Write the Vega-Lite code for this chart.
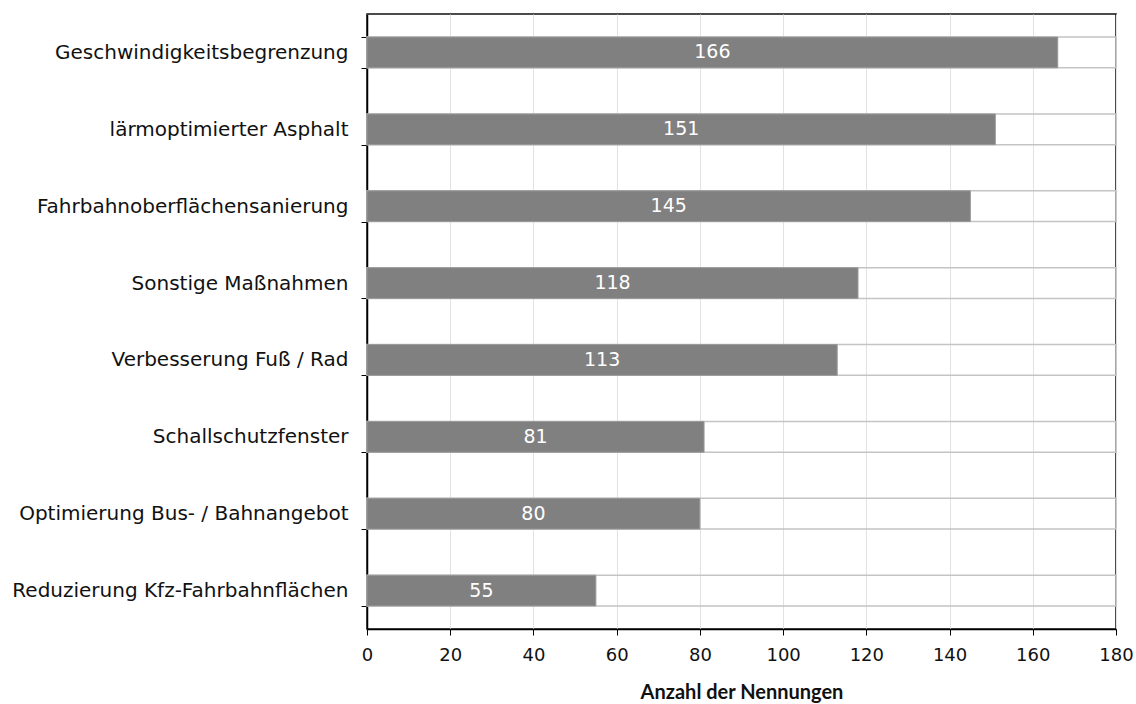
{
  "$schema": "https://vega.github.io/schema/vega-lite/v6.json",
  "autosize": {"type": "none"},
  "width": 749,
  "height": 615,
  "padding": {"left": 367, "top": 14, "right": 20, "bottom": 75},
  "background": "white",
  "config": {
    "font": "DejaVu Sans",
    "view": {"stroke": "#111", "strokeWidth": 1.5}
  },
  "data": {
    "values": [
      {"m": "Geschwindigkeitsbegrenzung", "v": 166},
      {"m": "lärmoptimierter Asphalt", "v": 151},
      {"m": "Fahrbahnoberflächensanierung", "v": 145},
      {"m": "Sonstige Maßnahmen", "v": 118},
      {"m": "Verbesserung Fuß / Rad", "v": 113},
      {"m": "Schallschutzfenster", "v": 81},
      {"m": "Optimierung Bus- / Bahnangebot", "v": 80},
      {"m": "Reduzierung Kfz-Fahrbahnflächen", "v": 55}
    ]
  },
  "encoding": {
    "y": {
      "field": "m",
      "type": "nominal",
      "sort": null,
      "scale": {"paddingInner": 0.6, "paddingOuter": 0.3},
      "axis": {
        "title": null,
        "tickBand": "extent",
        "tickSize": 6,
        "tickColor": "#000",
        "domainColor": "#000",
        "domainWidth": 1.5,
        "labelFontSize": 20,
        "labelColor": "#111",
        "labelPadding": 13,
        "labelLimit": 400
      }
    }
  },
  "layer": [
    {
      "mark": {"type": "bar", "fill": "transparent", "stroke": "#c4c4c4", "strokeWidth": 1.5},
      "encoding": {
        "x": {
          "datum": 180,
          "type": "quantitative",
          "scale": {"domain": [0, 180], "nice": false},
          "axis": {
            "values": [0, 20, 40, 60, 80, 100, 120, 140, 160, 180],
            "grid": true,
            "gridColor": "#e2e2e2",
            "tickSize": 6,
            "tickColor": "#000",
            "domainColor": "#000",
            "domainWidth": 1.5,
            "labelFontSize": 18,
            "labelFlush": false,
            "labelColor": "#111",
            "labelPadding": 11,
            "title": "Anzahl der Nennungen",
            "titleFont": "Lato",
            "titleFontSize": 20,
            "titleFontWeight": "bold",
            "titleColor": "#111",
            "titleY": 63,
            "titleBaseline": "middle"
          }
        }
      }
    },
    {
      "mark": {"type": "bar", "fill": "#808080", "stroke": "#999999", "strokeWidth": 1},
      "encoding": {
        "x": {"field": "v", "type": "quantitative"}
      }
    },
    {
      "mark": {"type": "text", "color": "white", "fontSize": 19, "baseline": "middle", "align": "center"},
      "encoding": {
        "x": {"field": "v", "type": "quantitative", "stack": "zero", "bandPosition": 0.5},
        "text": {"field": "v", "type": "quantitative"}
      }
    }
  ]
}
